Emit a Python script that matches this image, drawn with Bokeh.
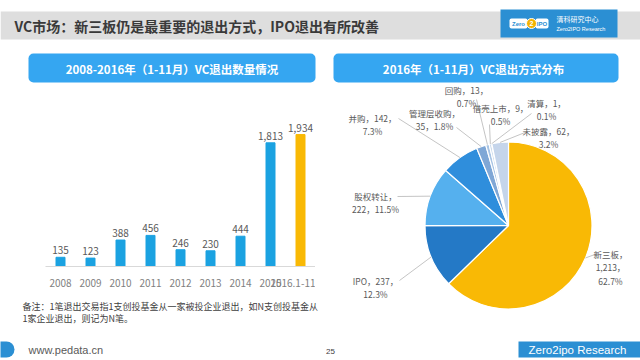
import math
from bokeh.plotting import figure
from bokeh.layouts import column, row
from bokeh.models import Range1d, FactorRange, BoxAnnotation, Spacer, ColumnDataSource
from bokeh.core.properties import value
from bokeh.embed import file_html
from bokeh.resources import INLINE

# ---------------- data ----------------
years = ["2008", "2009", "2010", "2011", "2012", "2013", "2014", "2015", "2016.1-11"]
exits = [135, 123, 388, 456, 246, 230, 444, 1813, 1934]

pie_names = ["新三板", "IPO", "股权转让", "并购", "管理层收购", "回购", "借壳上市", "清算", "未披露"]
pie_values = [1213, 237, 222, 142, 35, 13, 9, 1, 62]
pie_pcts = ["62.7%", "12.3%", "11.5%", "7.3%", "1.8%", "0.7%", "0.5%", "0.1%", "3.2%"]

title_text = "VC市场：新三板仍是最重要的退出方式，IPO退出有所改善"
bar_title = "2008-2016年（1-11月）VC退出数量情况"
pie_title = "2016年（1-11月）VC退出方式分布"
note_lines = ["备注：1笔退出交易指1支创投基金从一家被投企业退出，如N支创投基金从",
              "1家企业退出，则记为N笔。"]

# ---------------- styles ----------------
CJK = value("Noto Sans CJK SC")
ARIAL = value("Liberation Sans")
BLUE_BAR = "#1ba2e1"
YELLOW = "#f9b905"
HEAD_BLUE = "#35a6f1"
LOGO_BLUE = "#2b8fd3"
LABEL = "#595959"
bar_colors = [BLUE_BAR] * (len(years) - 1) + [YELLOW]
pie_colors = [YELLOW, "#2479c6", "#55b0ee", "#2f8edc", "#7fa7d6", "#a8c4e4", "#cddcee", "#dfe7f3", "#c5d5eb"]


def canvas(w, h, x0, x1, y0, y1):
    p = figure(width=w, height=h, x_range=Range1d(x0, x1), y_range=Range1d(-y1, -y0),
               output_backend="svg", toolbar_location=None, min_border=0,
               x_axis_location=None, y_axis_location=None)
    p.grid.visible = False
    p.outline_line_color = None
    p.background_fill_color = "white"
    p.border_fill_color = "white"
    return p


def box(p, l, r, t, b, color, radius=0):
    p.add_layout(BoxAnnotation(left=l, right=r, top=-t, bottom=-b, fill_color=color,
                               fill_alpha=1, line_color=None, border_radius=radius,
                               level="underlay"))


def txt(p, x, y, s, size, color, align="left", bold=False, font=CJK, baseline="middle"):
    p.text(x=[x], y=[-y], text=[s], text_font=font, text_font_size=size, text_color=color,
           text_align=align, text_baseline=baseline, text_font_style="bold" if bold else "normal")


# ---------------- top band ----------------
top = canvas(640, 84, 0, 640, 0, 84)
box(top, 0, 640, 11, 39, "#dedede")
txt(top, 14, 25.5, title_text, "14px", "#3a3a3a", bold=True)
box(top, 500, 617, 9, 37, LOGO_BLUE)
box(top, 509, 527, 18, 28, "white", 2)
box(top, 535, 548, 18, 28, "white", 2)
top.circle(x=[531], y=[-23], radius=5, fill_color="#f3b300", line_color="white", line_width=1)
txt(top, 518, 23, "Zero", "6px", LOGO_BLUE, align="center", bold=True, font=ARIAL)
txt(top, 531, 23, "2", "7px", "white", align="center", bold=True, font=ARIAL)
txt(top, 541.5, 23, "IPO", "6px", LOGO_BLUE, align="center", bold=True, font=ARIAL)
txt(top, 556, 18.5, "清科研究中心", "7px", "white")
txt(top, 556, 28.5, "Zero2IPO Research", "5.5px", "white", font=ARIAL)
box(top, 28, 315, 53, 82, HEAD_BLUE, 5)
box(top, 333, 618, 53, 82, HEAD_BLUE, 5)
txt(top, 171.5, 68, bar_title, "11.5px", "white", align="center", bold=True)
txt(top, 473, 68, pie_title, "11.5px", "white", align="center", bold=True)

# ---------------- bar chart ----------------
bsrc = ColumnDataSource(dict(x=years, top=exits, color=bar_colors,
                             lab=[f"{v:,}" for v in exits]))
pb = figure(width=270, height=205, x_range=FactorRange(*years), y_range=Range1d(0, 2668),
            output_backend="svg", toolbar_location=None, min_border_left=0, min_border_right=0,
            min_border_top=0, min_border_bottom=22, y_axis_location=None)
pb.vbar(x="x", top="top", width=0.3, color="color", source=bsrc)
pb.text(x="x", y="top", text="lab", source=bsrc, text_align="center", text_baseline="bottom",
        y_offset=-3, text_font=CJK, text_font_size="10px", text_color=LABEL)
pb.grid.visible = False
pb.outline_line_color = None
pb.xaxis.axis_line_color = "#d9d9d9"
pb.xaxis.major_tick_line_color = None
pb.xaxis.minor_tick_line_color = None
pb.xaxis.major_label_standoff = 6
pb.xaxis.major_label_text_font = "Noto Sans CJK SC"
pb.xaxis.major_label_text_font_size = "10px"
pb.xaxis.major_label_text_color = "#7f7f7f"

note = canvas(320, 49, 0, 320, 289, 338)
txt(note, 22, 306, note_lines[0], "9px", "#404040")
txt(note, 22, 318, note_lines[1], "9px", "#404040")

left = column(row(Spacer(width=45, height=205), pb, Spacer(width=5, height=205)), note)

# ---------------- pie chart ----------------
pp = canvas(320, 254, 320, 640, 84, 338)
CX, CY, R = 508, -225, 83.5
RY = R
total = sum(pie_values)
starts, ends, mids = [], [], []
cum = 0
for v in pie_values:
    starts.append(math.pi / 2 - 2 * math.pi * cum / total)
    mids.append(math.pi / 2 - 2 * math.pi * (cum + v / 2) / total)
    cum += v
    ends.append(math.pi / 2 - 2 * math.pi * cum / total)
pp.wedge(x=CX, y=CY, radius=R, start_angle=starts, end_angle=ends, direction="clock",
         fill_color=pie_colors, line_color="white", line_width=1.2)

# label layout: (centre x, first line y, line split style, leader start)
label_layout = [
    (610, 253, "C", (597, 253)),
    (375, 280, "A", (399, 280)),
    (375, 195, "B", (397, 196)),
    (372, 117, "A", (398, 118)),
    (434, 112, "B", (456, 127)),
    (466, 89, "A", (476, 99)),
    (500, 107, "A", (489, 124)),
    (546, 102, "A", (531, 113)),
    (548, 130, "A", (527, 131)),
]
lx0, ly0, lx1, ly1 = [], [], [], []
tx, ty, tt = [], [], []
for i, (name, v, pct) in enumerate(zip(pie_names, pie_values, pie_pcts)):
    cx, cy, style, (sx, sy) = label_layout[i]
    vs = f"{v:,}"
    if style == "A":
        lines = [f"{name}，{vs}，", pct]
    elif style == "B":
        lines = [f"{name}，", f"{vs}，{pct}"]
    else:
        lines = [f"{name}，", f"{vs}，", pct]
    for k, s in enumerate(lines):
        tx.append(cx)
        ty.append(-(cy + 13.5 * k))
        tt.append(s)
    lx0.append(sx)
    ly0.append(-sy)
    lx1.append(CX + R * math.cos(mids[i]))
    ly1.append(CY + RY * math.sin(mids[i]))
pp.segment(x0=lx0, y0=ly0, x1=lx1, y1=ly1, line_color="#b5b5b5", line_width=0.8)
pp.text(x=tx, y=ty, text=tt, text_align="center", text_baseline="middle", text_font=CJK,
        text_font_size="8.5px", text_color=LABEL)

mid = row(left, pp)

# ---------------- footer ----------------
foot = canvas(640, 22, 0, 640, 338, 360)
box(foot, -10, 14, 341, 357, LOGO_BLUE, (0, 8, 8, 0))
txt(foot, 28, 349, "www.pedata.cn", "11px", LABEL, font=ARIAL)
txt(foot, 330, 351, "25", "8px", "#404040", align="center", font=ARIAL)
box(foot, 518, 640, 341, 357, LOGO_BLUE)
txt(foot, 577, 349, "Zero2ipo Research", "11.5px", "white", align="center", font=ARIAL)

page = column(top, mid, foot)
open("out.html", "w").write(file_html(page, INLINE))
